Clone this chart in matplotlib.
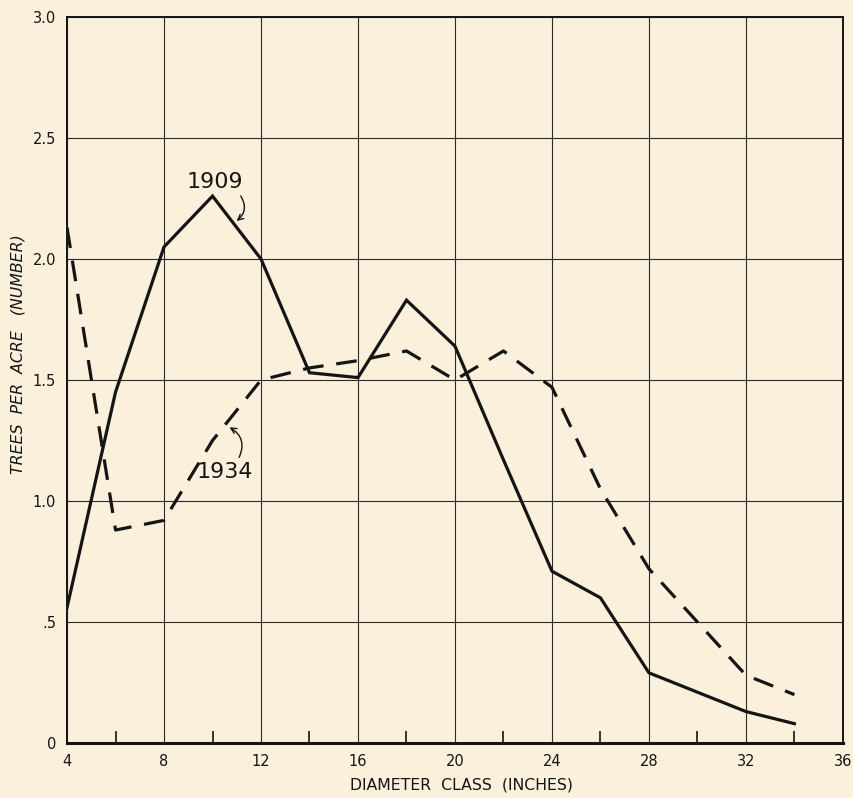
import matplotlib
matplotlib.use("Agg")
import matplotlib.pyplot as plt
from matplotlib.ticker import FixedLocator

# Data
diameter = [4, 6, 8, 10, 12, 14, 16, 18, 20, 22, 24, 26, 28, 30, 32, 34]
trees_1909 = [0.56, 1.45, 2.05, 2.26, 2.00, 1.53, 1.51, 1.83, 1.64, 1.17, 0.71, 0.60, 0.29, 0.21, 0.13, 0.08]
trees_1934 = [2.13, 0.88, 0.92, 1.25, 1.50, 1.55, 1.58, 1.62, 1.50, 1.62, 1.47, 1.05, 0.72, 0.50, 0.28, 0.20]
x_ticks = [4, 8, 12, 16, 20, 24, 28, 32, 36]
x_minor = [6, 10, 14, 18, 22, 26, 30, 34]
y_ticks = [0, 0.5, 1.0, 1.5, 2.0, 2.5, 3.0]
y_tick_labels = ["0", ".5", "1.0", "1.5", "2.0", "2.5", "3.0"]

bg = "#FAF0DC"
ink = "#151515"

fig = plt.figure(figsize=(8.54, 7.98), dpi=100, facecolor=bg)
ax = fig.add_axes([0.0785, 0.0689, 0.9085, 0.9098], facecolor=bg)

ax.plot(diameter, trees_1909, color=ink, lw=2.3, solid_joinstyle="miter")
ax.plot(diameter, trees_1934, color=ink, lw=2.3, dashes=(6.5, 4))

ax.set_xlim(4, 36)
ax.set_ylim(0, 3.0)
ax.set_xticks(x_ticks)
ax.set_xticklabels([str(t) for t in x_ticks])
ax.set_yticks(y_ticks)
ax.set_yticklabels(y_tick_labels)
ax.xaxis.set_minor_locator(FixedLocator(x_minor))

ax.grid(True, which="major", color="#2a2a2a", lw=0.8)
ax.tick_params(which="major", length=0, labelsize=10.5, colors=ink, pad=8)
ax.tick_params(axis="x", which="minor", direction="in", length=9, width=1.2, color=ink, bottom=True)
ax.tick_params(axis="y", which="minor", length=0)
for s in ax.spines.values():
    s.set_color(ink)
    s.set_linewidth(1.4)
ax.spines["bottom"].set_linewidth(2.2)

ax.set_xlabel("DIAMETER  CLASS  (INCHES)", fontsize=11.3, color=ink, va="center")
ax.xaxis.set_label_coords(0.508, -0.058)
ax.set_ylabel("TREES  PER  ACRE   (NUMBER)", fontsize=11.3, color=ink, style="italic", va="center")
ax.yaxis.set_label_coords(-0.063, 0.535)

ax.text(10.1, 2.32, "1909", fontsize=16, color=ink, ha="center", va="center")
ax.annotate("", xy=(10.9, 2.15), xytext=(11.1, 2.27),
            arrowprops=dict(arrowstyle="->", color=ink, lw=1.0,
                            connectionstyle="arc3,rad=-0.5"))
ax.text(10.5, 1.12, "1934", fontsize=16, color=ink, ha="center", va="center")
ax.annotate("", xy=(10.6, 1.31), xytext=(11.05, 1.17),
            arrowprops=dict(arrowstyle="->", color=ink, lw=1.0,
                            connectionstyle="arc3,rad=0.5"))

fig.savefig("out.png", dpi=100, facecolor=bg)
